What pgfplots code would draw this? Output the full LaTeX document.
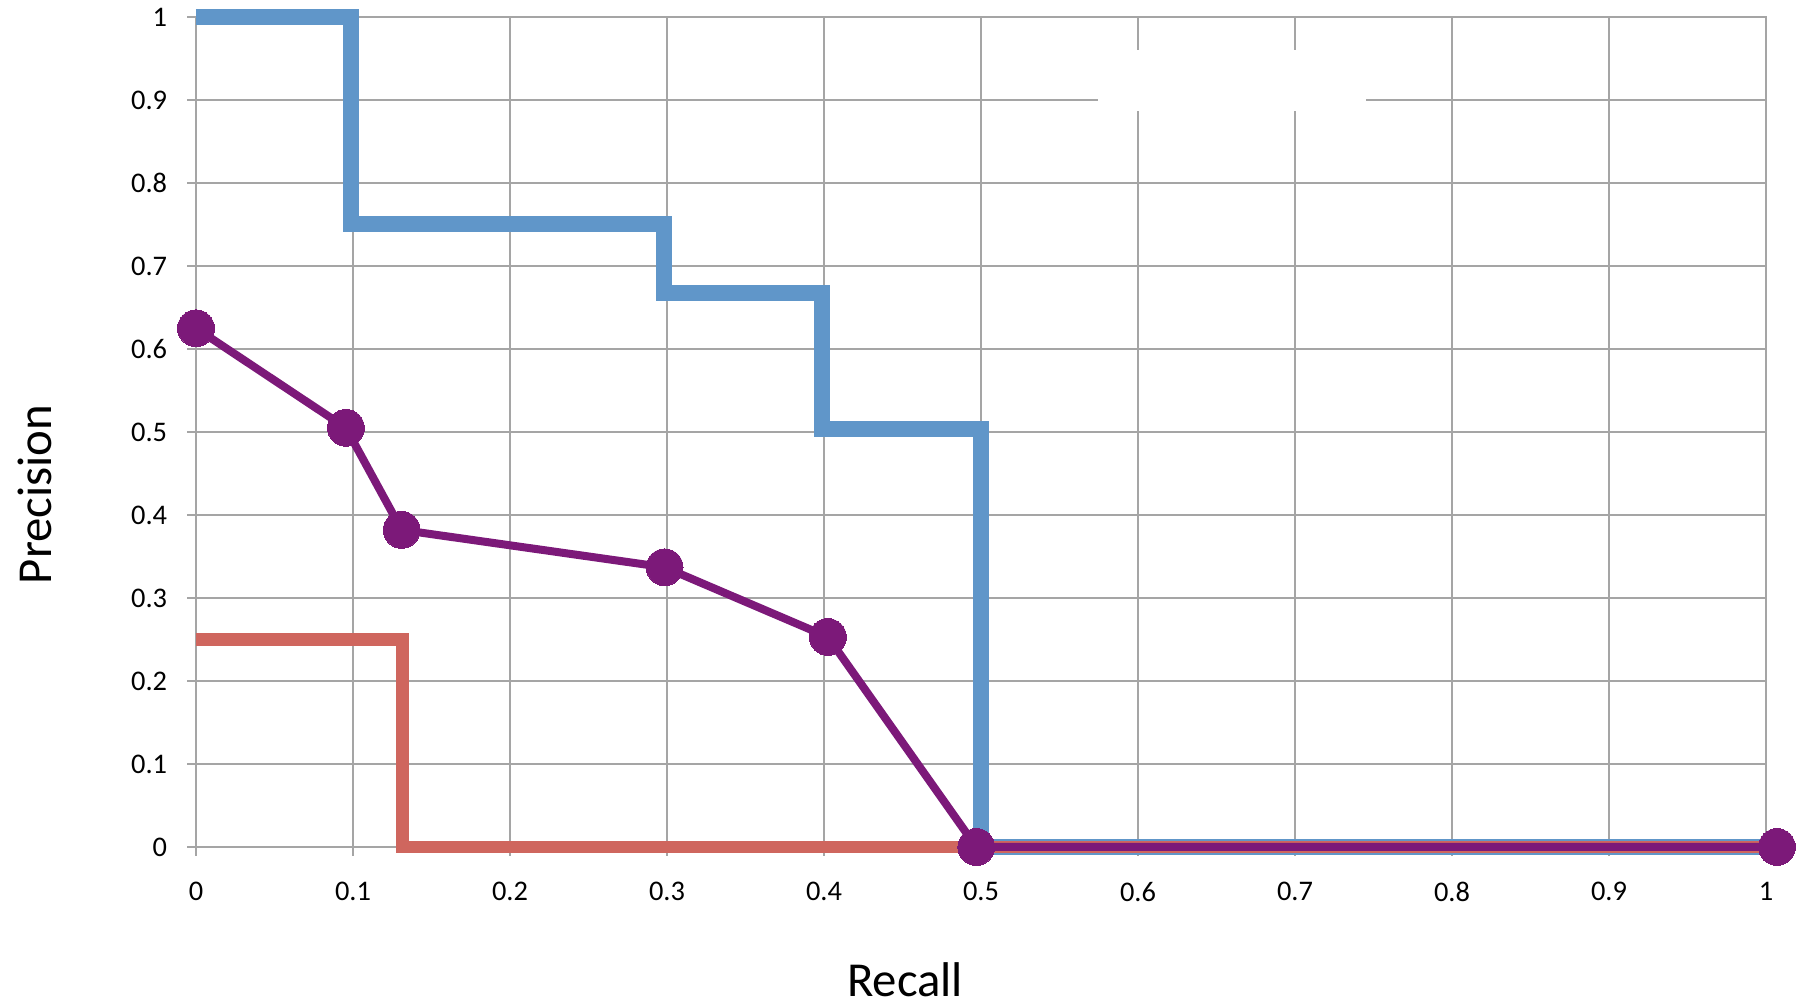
\documentclass[border=0pt]{standalone}
\usepackage{pgfplots}
\pgfplotsset{compat=1.18}
\usepackage{fontspec}
\setmainfont{Carlito}
\definecolor{pblue}{RGB}{96,150,201}
\definecolor{pred}{RGB}{207,102,94}
\definecolor{ppurple}{RGB}{124,25,121}
\definecolor{gridgray}{RGB}{165,165,165}
\begin{document}
\begin{tikzpicture}
\useasboundingbox (-49pt,-39pt) rectangle (401.75pt,211.75pt);
\begin{axis}[
  anchor=south west, at={(0,0)},
  scale only axis, width=392.5pt, height=207.5pt,
  xmin=0, xmax=1, ymin=0, ymax=1,
  xtick={0,0.1,...,1}, ytick={0,0.1,...,1},
  /pgf/number format/assume math mode=true,
  /pgf/number format/fixed,
  grid=major,
  major grid style={gridgray, line width=0.5pt},
  axis line style={gridgray, line width=0.5pt},
  tick style={gridgray, line width=0.5pt},
  tick pos=left, tick align=outside, major tick length=2.2pt,
  ticklabel style={font=\fontsize{7.1}{8}\selectfont, text=black},
  xticklabel style={yshift=-3pt},
  yticklabel style={xshift=-1.5pt},
  xlabel={Recall}, ylabel={Precision},
  label style={font=\fontsize{12.2}{14}\selectfont},
  xlabel style={at={(axis description cs:0.4516,0)}, anchor=center, yshift=-33.25pt},
  ylabel style={at={(axis description cs:-0.1029,0.4247)}, anchor=center},
  clip=false,
]
\fill[white] (axis cs:0.5745,0.887) rectangle (axis cs:0.745,0.96);
\addplot[pblue, line width=4pt, line join=miter] coordinates {
  (0,1) (0.099,1) (0.099,0.75) (0.298,0.75) (0.298,0.667) (0.399,0.667) (0.399,0.503) (0.5,0.503) (0.5,0) (1,0)
};
\addplot[pred, line width=3.2pt, line join=miter] coordinates {
  (0,0.25) (0.1317,0.25) (0.1317,0) (1,0)
};
\addplot[ppurple, line width=2pt, mark=*, mark size=4.6pt, mark options={fill=ppurple, draw=ppurple, line width=0pt}] coordinates {
  (0,0.625) (0.0955,0.505) (0.131,0.382) (0.2985,0.337) (0.4025,0.253) (0.497,0) (1.007,0)
};
\end{axis}
\end{tikzpicture}
\end{document}
